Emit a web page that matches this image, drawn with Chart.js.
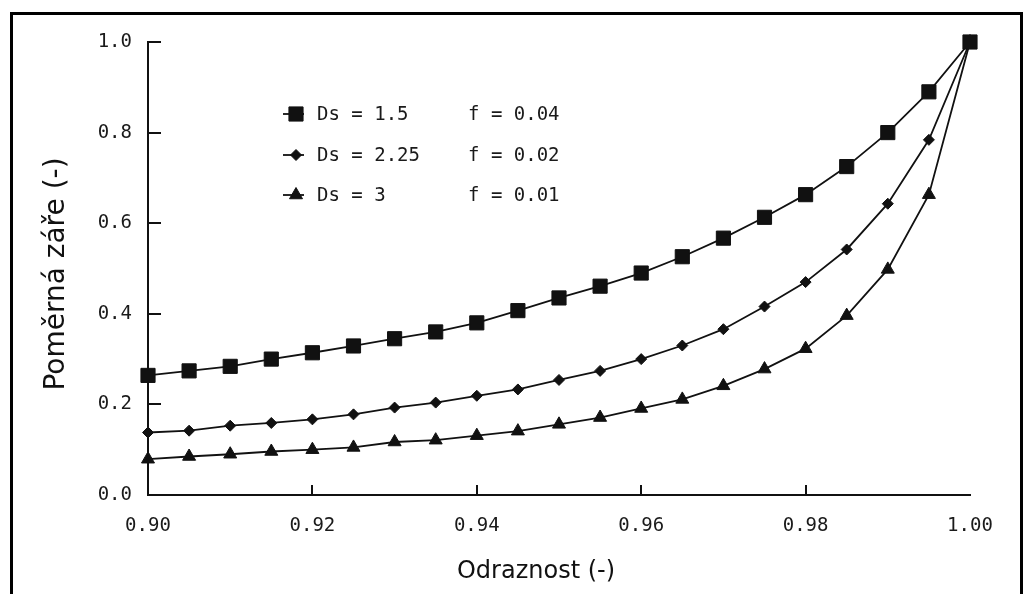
<!DOCTYPE html>
<html>
<head>
<meta charset="utf-8">
<script src="https://cdn.jsdelivr.net/npm/chart.js@4.4.1/dist/chart.umd.min.js"></script>
<style>
  html, body { margin: 0; padding: 0; background: #fff; }
  canvas { display: block; }
</style>
</head>
<body>
<canvas id="zareChart" width="1031" height="594"></canvas>
<script>
// odraznost (x) a pomerna zare pro tri hodnoty Ds
const odraznost = [0.900, 0.905, 0.910, 0.915, 0.920, 0.925, 0.930, 0.935, 0.940, 0.945,
                   0.950, 0.955, 0.960, 0.965, 0.970, 0.975, 0.980, 0.985, 0.990, 0.995, 1.000];
const zareDs15 = [0.264, 0.274, 0.284, 0.300, 0.314, 0.329, 0.345, 0.360, 0.380, 0.407,
                  0.435, 0.461, 0.490, 0.526, 0.567, 0.613, 0.663, 0.725, 0.800, 0.890, 1.000];
const zareDs225 = [0.138, 0.142, 0.153, 0.159, 0.167, 0.178, 0.193, 0.204, 0.219, 0.233,
                   0.254, 0.274, 0.300, 0.330, 0.366, 0.416, 0.470, 0.542, 0.643, 0.784, 1.000];
const zareDs3 = [0.079, 0.085, 0.090, 0.096, 0.100, 0.105, 0.117, 0.121, 0.131, 0.141,
                 0.156, 0.171, 0.191, 0.211, 0.241, 0.278, 0.323, 0.396, 0.498, 0.663, 1.000];

const dsLabels = ['Ds = 1.5', 'Ds = 2.25', 'Ds = 3'];
const fLabels = ['f = 0.04', 'f = 0.02', 'f = 0.01'];
const xTicks = [0.90, 0.92, 0.94, 0.96, 0.98, 1.00];
const yTicks = [0.0, 0.2, 0.4, 0.6, 0.8, 1.0];
const xTitle = 'Odraznost (-)';
const yTitle = 'Poměrná záře (-)';

const tickFont = { family: 'DejaVu Sans Mono', size: 19 };

function toPoints(ys) {
    return odraznost.map((x, i) => ({ x: x, y: ys[i] }));
}

function series(label, ys, style, radius) {
    return {
        label: label,
        data: toPoints(ys),
        showLine: true,
        borderColor: '#111',
        borderWidth: 1.8,
        backgroundColor: '#111',
        pointBackgroundColor: '#111',
        pointBorderColor: '#111',
        pointBorderWidth: 1,
        pointStyle: style,
        pointRadius: radius,
        pointHoverRadius: radius,
        clip: false
    };
}

// ramecek, vnitrni carky na osach, legenda a popisy os
const decorPlugin = {
    id: 'decor',
    afterDraw(chart) {
        const ctx = chart.ctx;
        const xs = chart.scales.x;
        const ys = chart.scales.y;
        ctx.save();

        ctx.strokeStyle = '#111';
        ctx.lineWidth = 2;
        ctx.beginPath();
        ys.ticks.forEach(t => {
            const py = Math.round(ys.getPixelForValue(t.value));
            ctx.moveTo(xs.left, py);
            ctx.lineTo(xs.left + 13, py);
        });
        xs.ticks.forEach(t => {
            if (t.value <= xs.min + 1e-9 || t.value >= xs.max - 1e-9) return;
            const px = Math.round(xs.getPixelForValue(t.value));
            ctx.moveTo(px, ys.bottom);
            ctx.lineTo(px, ys.bottom - 10);
        });
        ctx.stroke();

        // legenda
        const rows = [114, 155, 195];
        ctx.font = '19px "DejaVu Sans Mono"';
        ctx.textBaseline = 'middle';
        ctx.textAlign = 'left';
        chart.data.datasets.forEach((ds, i) => {
            const y = rows[i];
            ctx.strokeStyle = '#111';
            ctx.lineWidth = 1.8;
            ctx.beginPath();
            ctx.moveTo(283, y);
            ctx.lineTo(304, y);
            ctx.stroke();
            ctx.fillStyle = '#111';
            ctx.lineWidth = 1;
            Chart.helpers.drawPoint(ctx, {
                pointStyle: ds.pointStyle, radius: ds.pointRadius, rotation: 0, borderWidth: 1
            }, 296, y);
            ctx.fillStyle = '#1a1a1a';
            ctx.fillText(dsLabels[i], 317, y + 1);
            ctx.fillText(fLabels[i], 468, y + 1);
        });

        // popisy os
        ctx.fillStyle = '#111';
        ctx.font = '24px "DejaVu Sans"';
        ctx.textAlign = 'center';
        ctx.textBaseline = 'alphabetic';
        ctx.fillText(xTitle, 536, 578);
        ctx.save();
        ctx.translate(64, 274);
        ctx.rotate(-Math.PI / 2);
        ctx.font = '28px "DejaVu Sans"';
        ctx.fillText(yTitle, 0, 0);
        ctx.restore();

        // ramecek obrazku
        ctx.strokeStyle = '#000';
        ctx.lineWidth = 3;
        ctx.beginPath();
        ctx.moveTo(11.5, 594);
        ctx.lineTo(11.5, 13.5);
        ctx.lineTo(1021.5, 13.5);
        ctx.lineTo(1021.5, 594);
        ctx.stroke();

        ctx.restore();
    }
};

const ctx = document.getElementById('zareChart').getContext('2d');
const zareChart = new Chart(ctx, {
    type: 'scatter',
    data: {
        datasets: [
            series(dsLabels[0], zareDs15, 'rect', 10),
            series(dsLabels[1], zareDs225, 'rectRot', 5.5),
            series(dsLabels[2], zareDs3, 'triangle', 7.5)
        ]
    },
    options: {
        responsive: false,
        animation: false,
        layout: { padding: { left: 0, top: 42, right: 61, bottom: 0 } },
        plugins: {
            legend: { display: false },
            tooltip: { enabled: false }
        },
        scales: {
            x: {
                type: 'linear',
                min: 0.9,
                max: 1.0,
                afterBuildTicks: s => { s.ticks = xTicks.map(v => ({ value: v })); },
                afterFit: s => { s.height = 99; },
                grid: { display: false, drawTicks: false },
                border: { display: true, color: '#111', width: 2 },
                ticks: {
                    font: tickFont,
                    color: '#1a1a1a',
                    padding: 20,
                    maxRotation: 0,
                    callback: v => Number(v).toFixed(2)
                }
            },
            y: {
                type: 'linear',
                min: 0,
                max: 1,
                afterBuildTicks: s => { s.ticks = yTicks.map(v => ({ value: v })); },
                afterFit: s => { s.width = 148; },
                grid: { display: false, drawTicks: false },
                border: { display: true, color: '#111', width: 2 },
                ticks: {
                    font: tickFont,
                    color: '#1a1a1a',
                    padding: 16,
                    callback: v => Number(v).toFixed(1)
                }
            }
        }
    },
    plugins: [decorPlugin]
});
</script>
</body>
</html>
